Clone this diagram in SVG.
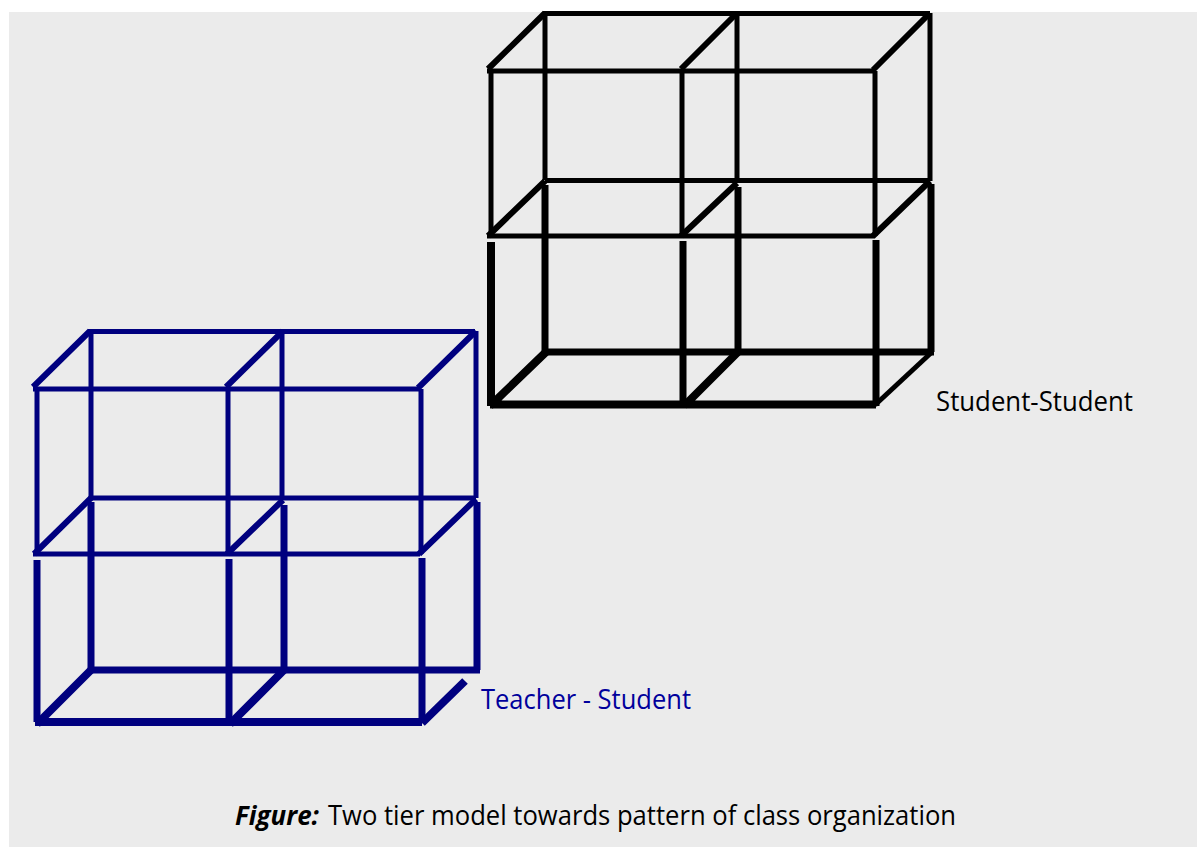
<svg xmlns="http://www.w3.org/2000/svg" width="1197" height="847" viewBox="0 0 1197 847">
<style>
.k{stroke:#000;fill:none}.b{stroke:#00007f;fill:none}
.w5{stroke-width:5}.w6{stroke-width:6}.w7{stroke-width:7}.w8{stroke-width:8}
text{font-family:"Open Sans","Liberation Sans",sans-serif;font-size:27px}
</style>
<rect x="9" y="12" width="1188" height="835" fill="#ebebeb"/>
<g id="student-student">
<path class="k w5" d="M543 13.500H930M487 71H875M545 13V180M737 13V183M930 13V181M491 71V236M682 71V238M875 71V236M545 180.500H930M487 236H875"/>
<path class="k w6" d="M488 69L545 13M681 69L737 13M873 70L930 13M488 236L545 181M681 236L737 183M873 236L930 181"/>
<path class="k w7" d="M545 185V352M738 187V352M931 184V352M683 241V406M876 240V406M545 352H934"/>
<path class="k w8" d="M491 242V406M490 404.500H876M490 406L546 352M684 406L738 352"/>
<path class="k w5" d="M875 405L932 352"/>
</g>
<g id="teacher-student">
<path class="b w5" d="M88 331.500H475M33 389H420M91 331V498M282 331V500M476 331V498M37 389V552M228 389V556M421 389V554M91 498H476M33 554H420"/>
<path class="b w6" d="M33 387L90 331M226 387L283 331M418 388L476 331M34 554L91 498M227 554L283 500M419 554L476 499"/>
<path class="b w7" d="M91 502V670M284 505V670M477 502V670M37 560V722M229 559V722M422 558V722M91 670H480"/>
<path class="b w8" d="M35 722H422M37 724L91 670M230 724L284 670M422 723L465 681"/>
</g>
<text id="label-student" x="936" y="411" textLength="197" lengthAdjust="spacingAndGlyphs" fill="#000">Student-Student</text>
<text id="label-teacher" x="481" y="709" textLength="210" lengthAdjust="spacingAndGlyphs" fill="#00009c">Teacher - Student</text>
<g id="caption">
<text x="235" y="825" textLength="84" lengthAdjust="spacingAndGlyphs" fill="#000" font-weight="700" font-style="italic">Figure:</text>
<text x="328" y="825" textLength="628" lengthAdjust="spacingAndGlyphs" fill="#000">Two tier model towards pattern of class organization</text>
</g>
</svg>
